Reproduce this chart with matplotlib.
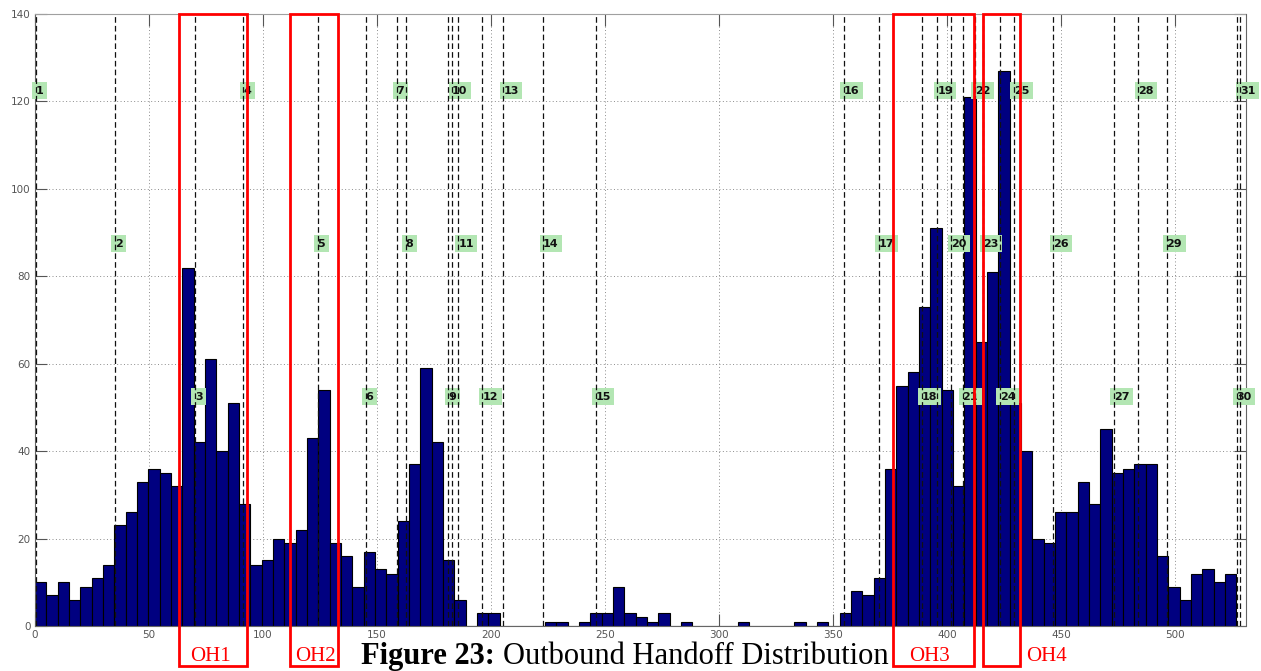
import matplotlib

matplotlib.use("Agg")
import matplotlib.pyplot as plt
import matplotlib.transforms as mtransforms
import numpy as np
from matplotlib.patches import Rectangle


# histogram of handoff positions, 106 equal bins over [0, 527]
BIN_START = 0.0
BIN_END = 527.0
COUNTS = [
    10, 7, 10, 6, 9, 11, 14, 23, 26, 33,
    36, 35, 32, 82, 42, 61, 40, 51, 28, 14,
    15, 20, 19, 22, 43, 54, 19, 16, 9, 17,
    13, 12, 24, 37, 59, 42, 15, 6, 0, 3,
    3, 0, 0, 0, 0, 1, 1, 0, 1, 3,
    3, 9, 3, 2, 1, 3, 0, 1, 0, 0,
    0, 0, 1, 0, 0, 0, 0, 1, 0, 1,
    0, 3, 8, 7, 11, 36, 55, 58, 73, 91,
    54, 32, 121, 65, 81, 127, 51, 40, 20, 19,
    26, 26, 33, 28, 45, 35, 36, 37, 37, 16,
    9, 6, 12, 13, 10, 12,
]

# numbered boundary markers (dashed lines)
MARKER_IDS = list(range(1, 32))
MARKER_X = [
    0.3, 35.1, 70.2, 91.4, 124.0, 145.0, 158.6, 162.6, 181.3, 183.0,
    185.7, 196.3, 205.4, 222.9, 245.9, 354.8, 370.2, 388.9, 395.8, 402.0,
    406.9, 412.3, 415.9, 423.2, 429.4, 446.6, 473.2, 483.9, 496.4, 527.1,
    528.6,
]
LABEL_LEVELS = [122.5, 87.5, 52.5]

# highlighted handoff zones
ZONE_NAMES = ["OH1", "OH2", "OH3", "OH4"]
ZONE_SPANS = [(63.2, 93.1), (112.0, 133.1), (376.2, 411.8), (415.9, 432.0)]
ZONE_LABEL_X = [76.8, 122.8, 392.5, 443.9]

X_TICKS = list(range(0, 501, 50))
Y_TICKS = list(range(0, 141, 20))
CAPTION_BOLD = "Figure 23:"
CAPTION_TEXT = "Outbound Handoff Distribution"


def main() -> None:
    fig = plt.figure(figsize=(12.61, 6.71), dpi=100)
    ax = fig.add_axes([35 / 1261, 45 / 671, 1210.5 / 1261, 612 / 671])

    counts = np.array(COUNTS)
    edges = np.linspace(BIN_START, BIN_END, len(counts) + 1)
    width = edges[1] - edges[0]
    ax.bar(edges[:-1], counts, width=width, align="edge", color="#000080",
           edgecolor="#000000", linewidth=0.8, zorder=2)

    for idx, (mid, xpos) in enumerate(zip(MARKER_IDS, MARKER_X)):
        ax.axvline(xpos, color="#111111", linewidth=0.9, linestyle=(0, (4.5, 2.5)), zorder=4)
        ax.text(xpos, LABEL_LEVELS[idx % 3], str(mid), ha="left", va="center",
                fontsize=8, fontweight="bold", color="#111111", zorder=3,
                bbox=dict(boxstyle="square,pad=0.32", fc="#b3e6b3", ec="none"))

    ax.set_xlim(0, 531)
    ax.set_ylim(0, 140)
    ax.set_xticks(X_TICKS)
    ax.set_yticks(Y_TICKS)
    ax.grid(True, color="#8c8c8c", linestyle=(0, (1, 2.5)), linewidth=0.7, zorder=0)
    ax.set_axisbelow(True)
    ax.tick_params(direction="in", length=8.5, width=0.8, color="#555555",
                   labelsize=7.5, labelcolor="#555555", top=True, right=True, pad=3)
    for side in ("left", "right", "bottom"):
        ax.spines[side].set_color("#666666")
    ax.spines["top"].set_color("#a0a0a0")

    # red zone boxes reach from the plot top down into the caption strip
    box_tr = mtransforms.blended_transform_factory(ax.transData, ax.transAxes)
    text_tr = mtransforms.blended_transform_factory(ax.transData, fig.transFigure)
    for name, (x0, x1), lx in zip(ZONE_NAMES, ZONE_SPANS, ZONE_LABEL_X):
        ax.add_patch(Rectangle((x0, -0.065), x1 - x0, 1.065, transform=box_tr,
                               fill=False, edgecolor="#ff0000", linewidth=2,
                               clip_on=False, zorder=6))
        ax.text(lx, 10 / 671, name, transform=text_tr, ha="center", va="baseline",
                fontsize=15, color="#ff0000", family="Liberation Serif", clip_on=False)

    fig.text(495 / 1261, 7 / 671, CAPTION_BOLD, ha="right", va="baseline",
             fontsize=22, fontweight="bold", family="Liberation Serif")
    fig.text(503 / 1261, 7 / 671, CAPTION_TEXT, ha="left", va="baseline",
             fontsize=22, family="Liberation Serif")

    fig.savefig("out.png", dpi=100)
    plt.close(fig)


if __name__ == "__main__":
    main()
